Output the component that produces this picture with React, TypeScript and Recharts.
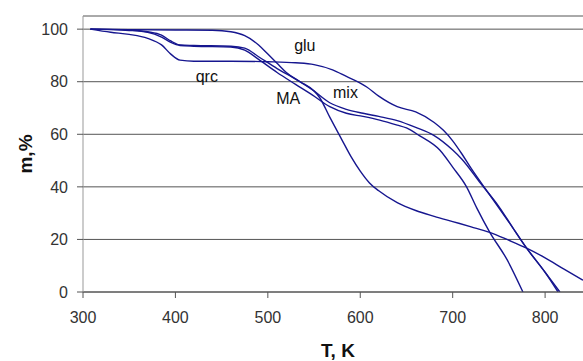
import { CartesianGrid, Line, LineChart, ReferenceDot, ReferenceLine, XAxis, YAxis } from "recharts";

// temperature (K) / remaining mass (%) per sample
const gluT = [308, 350, 400, 440, 460, 475, 490, 500, 510, 520, 535, 550, 556, 567, 580, 590, 600, 610, 620, 640, 660, 680, 700, 720, 740, 760, 780, 800, 820, 841];
const gluM = [100, 99.8, 99.7, 99.6, 99, 97.5, 94, 90.5, 87, 83.5, 80, 76.5, 74, 66.5, 58, 51.5, 46, 41.5, 38.5, 34, 31, 28.8, 26.8, 24.8, 22.7, 19.8, 16.7, 13, 8.8, 4.5];

const qrcT = [308, 330, 350, 370, 385, 395, 405, 420, 460, 500, 530, 550, 570, 585, 600, 607, 620, 640, 660, 680, 690, 700, 710, 720, 740, 760, 780, 800, 816];
const qrcM = [100, 98.8, 98, 96.5, 94, 90.5, 88.2, 87.8, 87.8, 87.6, 87.2, 86.5, 84.5, 82, 79.5, 78, 74.5, 70.5, 68.5, 64.5, 61.5, 57.5, 52.5, 47, 37, 27, 16.7, 7.5, 0];

const maT = [308, 350, 370, 385, 395, 405, 420, 460, 475, 490, 510, 530, 548, 567, 585, 603, 621, 640, 650, 664, 686, 700, 715, 726, 740, 759, 776];
const maM = [100, 99.5, 98.8, 97, 95, 93.8, 93.5, 93.2, 92, 88.5, 83.5, 79, 75, 70.5, 68, 66.8, 65.4, 63.5, 62.4, 59.5, 54, 47.5, 40, 32, 22.8, 12.2, 0];

const mixT = [308, 350, 370, 385, 395, 405, 420, 460, 475, 490, 510, 530, 548, 567, 585, 603, 620, 640, 660, 680, 700, 710, 730, 750, 765, 780, 800, 814];
const mixM = [100, 99.7, 99, 97.7, 95.5, 94, 93.8, 93.5, 92.8, 89.5, 85, 81, 77, 72, 69.5, 68, 66.8, 65.2, 62.6, 59.5, 54, 50.5, 41.4, 32.5, 24.5, 16.7, 7.5, 0];

const xTicks = [300, 400, 500, 600, 700, 800];
const yTicks = [0, 20, 40, 60, 80, 100];

const zip = (ts: number[], ms: number[]) => ts.map((t, i) => ({ t, m: ms[i] }));

const FONT = "'Liberation Sans', Arial, sans-serif";
const LINE = "#16168f";

export default function App() {
  const series = [zip(gluT, gluM), zip(qrcT, qrcM), zip(maT, maM), zip(mixT, mixM)];
  const lbl = (value: string) => ({ value, position: "center" as const, fill: "#111", fontSize: 16, fontFamily: FONT });
  return (
    <div style={{ width: 583, height: 361, background: "#fff" }}>
      <style>{`body{margin:0}`}</style>
      <LineChart width={583} height={361} margin={{ top: 16, right: 0, bottom: 0, left: 0 }}>
        <CartesianGrid horizontal vertical={false} stroke="#555" />
        <ReferenceLine y={105} stroke="#aaa" />
        <XAxis
          type="number"
          dataKey="t"
          domain={[300, 841]}
          ticks={xTicks}
          allowDataOverflow
          height={69}
          tickSize={6}
          tickMargin={14}
          stroke="#555"
          tick={{ fill: "#333", fontSize: 16, fontFamily: FONT }}
          label={{
            content: () => (
              <text x={338} y={350} textAnchor="middle" dominantBaseline="central" fontFamily={FONT} fontSize={19} fontWeight="bold" fill="#111">
                T, K
              </text>
            ),
          }}
        />
        <YAxis
          type="number"
          domain={[0, 105]}
          ticks={yTicks}
          allowDataOverflow
          width={83}
          tickSize={6}
          tickMargin={9}
          axisLine={{ stroke: "#999" }}
          tickLine={{ stroke: "#555" }}
          tick={{ fill: "#333", fontSize: 16, fontFamily: FONT }}
          label={{
            content: () => (
              <text x={25} y={154} transform="rotate(-90 25 154)" textAnchor="middle" dominantBaseline="central" fontFamily={FONT} fontSize={19} fontWeight="bold" fill="#111">
                m,%
              </text>
            ),
          }}
        />
        {series.map((d, i) => (
          <Line
            key={i}
            data={d}
            dataKey="m"
            type="monotone"
            stroke={LINE}
            strokeWidth={1.4}
            dot={false}
            isAnimationActive={false}
          />
        ))}
        <ReferenceDot x={540} y={94} r={0} label={lbl("glu")} />
        <ReferenceDot x={434} y={82} r={0} label={lbl("qrc")} />
        <ReferenceDot x={522} y={73.8} r={0} label={lbl("MA")} />
        <ReferenceDot x={584} y={76} r={0} label={lbl("mix")} />
      </LineChart>
    </div>
  );
}
